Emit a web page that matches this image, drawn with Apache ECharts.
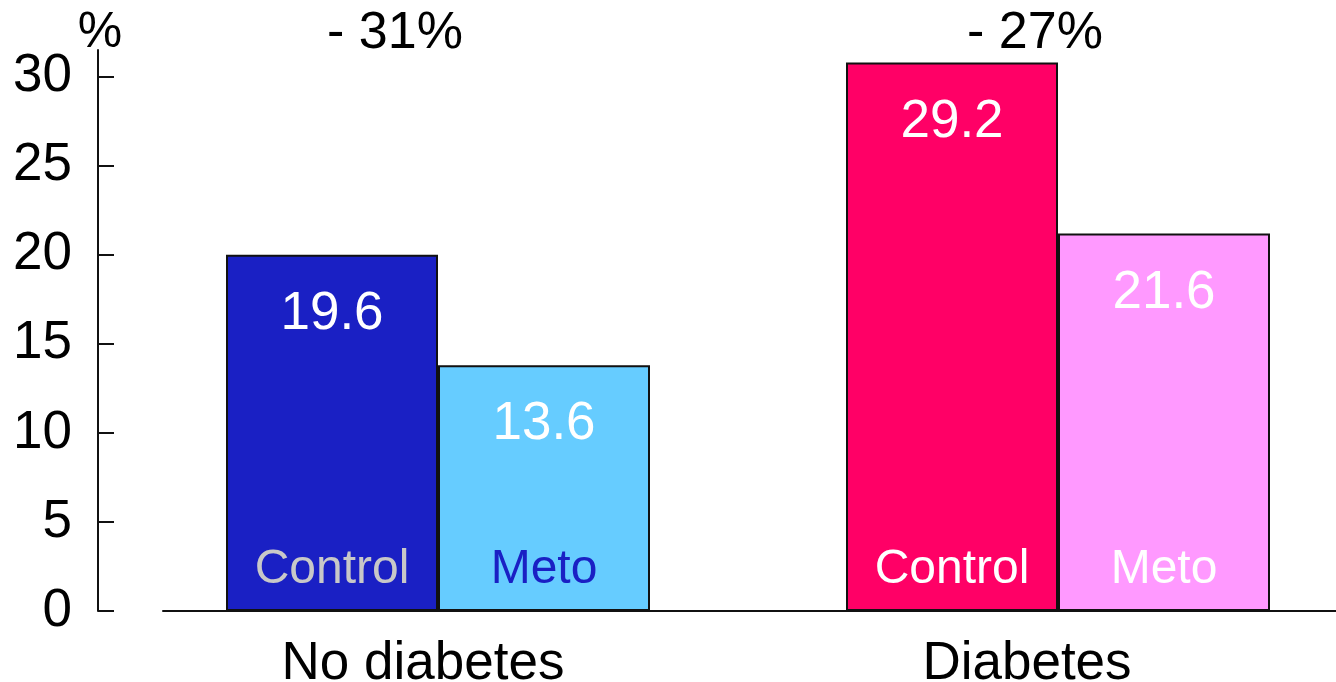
<!DOCTYPE html>
<html>
<head>
<meta charset="utf-8">
<script src="https://cdn.jsdelivr.net/npm/echarts@6/dist/echarts.min.js"></script>
<style>html,body{margin:0;padding:0;background:#fff}#c{width:1336px;height:682px}</style>
</head>
<body>
<div id="c"></div>
<script>
const categories = ['No diabetes', 'Diabetes'];
const seriesNames = ['Control', 'Meto'];
const controlValues = [20.0, 30.8];
const metoValues = [13.8, 21.2];
const controlLabels = ['19.6', '29.2'];
const metoLabels = ['13.6', '21.6'];
const reductions = ['- 31%', '- 27%'];
const yTicks = [0, 5, 10, 15, 20, 25, 30];
const yUnit = '%';

const FONT = 'Liberation Sans, Arial, sans-serif';
const chart = echarts.init(document.getElementById('c'), null, {renderer: 'canvas'});

const controlColors = ['#1a20c4', '#ff0066'];
const metoColors = ['#66ccff', '#ff99ff'];
const controlNameColors = ['#c8c8c8', '#ffffff'];
const metoNameColors = ['#1a20c4', '#ffffff'];
const nameShadow = ['#777777', 'transparent'];

function valSeries(name, vals, labels, colors) {
  return {
    name: name, type: 'bar', xAxisIndex: 0, yAxisIndex: 0,
    barWidth: 212, barGap: '0%',
    data: vals.map((v, i) => ({
      value: v,
      itemStyle: {color: colors[i], borderColor: '#111', borderWidth: 2},
      label: {formatter: labels[i]}
    })),
    label: {show: true, position: 'insideTop', distance: 33, color: '#fff',
      fontSize: 53, fontFamily: FONT, lineHeight: 53},
    silent: true, animation: false
  };
}
function nameSeries(name, vals, colors) {
  return {
    name: name + ' label', type: 'bar', xAxisIndex: 1, yAxisIndex: 0,
    barWidth: 212, barGap: '0%',
    data: vals.map((v, i) => ({
      value: v,
      label: {color: colors[i], textShadowColor: nameShadow[i], textShadowOffsetX: 1.5, textShadowOffsetY: 1.5}
    })),
    itemStyle: {color: 'transparent'},
    label: {show: true, position: 'insideBottom', distance: 17, formatter: name,
      fontSize: 48, fontFamily: FONT, lineHeight: 48},
    silent: true, animation: false, z: 5
  };
}

const option = {
  animation: false,
  grid: [
    {left: 128, width: 1240, top: 50, bottom: 71, outerBoundsMode: 'none', containLabel: false},
    {left: 163, right: 0, top: 50, bottom: 71, outerBoundsMode: 'none', containLabel: false}
  ],
  xAxis: [
    {type: 'category', gridIndex: 0,
     data: categories.map((c, i) => ({value: c, textStyle: {padding: [0, i === 0 ? 30 : 62, 0, 0]}})),
     axisLine: {show: false}, axisTick: {show: false},
     axisLabel: {color: '#000', fontSize: 53, fontFamily: FONT, margin: 27}},
    {type: 'category', gridIndex: 0, data: categories, show: false},
    {type: 'value', gridIndex: 1, min: 0, max: 1,
     axisLine: {show: true, lineStyle: {color: '#111', width: 2}},
     axisTick: {show: false}, axisLabel: {show: false}, splitLine: {show: false}}
  ],
  yAxis: [
    {type: 'value', gridIndex: 0, min: 0, max: 31.5, offset: 30,
     axisLine: {show: true, lineStyle: {color: '#111', width: 2}},
     axisTick: {show: true, inside: true, length: 16, lineStyle: {color: '#111', width: 2}, customValues: yTicks},
     axisLabel: {color: '#000', fontSize: 53, fontFamily: FONT, margin: 26, customValues: yTicks},
     splitLine: {show: false}},
    {type: 'value', gridIndex: 1, show: false}
  ],
  graphic: reductions.map((t, i) => ({
    type: 'text', x: i === 0 ? 395 : 1035, y: 34,
    style: {text: t, fontSize: 52, fontFamily: FONT, fill: '#000', align: 'center', verticalAlign: 'middle'}
  })).concat([{
    type: 'text', x: 100, y: 33,
    style: {text: yUnit, fontSize: 50, fontFamily: FONT, fill: '#000', align: 'center', verticalAlign: 'middle'}
  }]),
  series: [
    valSeries(seriesNames[0], controlValues, controlLabels, controlColors),
    valSeries(seriesNames[1], metoValues, metoLabels, metoColors),
    nameSeries(seriesNames[0], controlValues, controlNameColors),
    nameSeries(seriesNames[1], metoValues, metoNameColors)
  ]
};
chart.setOption(option);
</script>
</body>
</html>
